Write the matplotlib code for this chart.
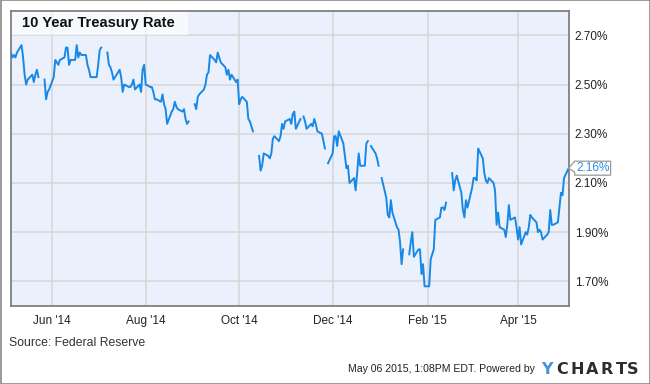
import numpy as np
import pandas as pd
import matplotlib
matplotlib.use("Agg")
import matplotlib.pyplot as plt
import matplotlib.dates as mdates
from matplotlib.patches import Rectangle, Polygon
from matplotlib.transforms import IdentityTransform

nan = np.nan

# 10 year treasury rate (%), one value per business day, nan on market holidays
rate_may14 = [2.63, 2.61, 2.62, 2.61, 2.63, 2.66, 2.61, 2.54, 2.50, 2.52,
              2.54, 2.51, 2.54, 2.56, 2.53, nan, 2.52, 2.44, 2.47, 2.48]
rate_jun14 = [2.53, 2.60, 2.59, 2.58, 2.60, 2.61, 2.65, 2.65, 2.58, 2.60,
              2.60, 2.66, 2.61, 2.63, 2.62, 2.62, 2.58, 2.56, 2.53, 2.53, 2.53]
rate_jul14 = [2.58, 2.64, 2.65, nan, 2.63, 2.58, 2.57, 2.55, 2.52, 2.55, 2.56, 2.53,
              2.47, 2.50, 2.49, 2.49, 2.50, 2.52, 2.48, 2.50, 2.47, 2.56, 2.58]
rate_aug14 = [2.50, 2.49, 2.49, 2.47, 2.44, 2.44, 2.43, 2.46, 2.42, 2.40, 2.34,
              2.39, 2.40, 2.43, 2.41, 2.40, 2.39, 2.40, 2.36, 2.34, 2.35]
rate_sep14 = [nan, 2.42, 2.40, 2.45, 2.46, 2.48, 2.50, 2.54, 2.55, 2.62, 2.60,
              2.59, 2.63, 2.61, 2.59, 2.57, 2.54, 2.56, 2.52, 2.54, 2.51, 2.52]
rate_oct14 = [2.42, 2.44, 2.45, 2.43, 2.36, 2.35, 2.33, 2.31, nan, 2.21, 2.15, 2.17,
              2.22, 2.21, 2.20, 2.22, 2.28, 2.29, 2.27, 2.29, 2.34, 2.32, 2.35]
rate_nov14 = [2.36, 2.34, 2.38, 2.39, 2.32, 2.36, nan, 2.37, 2.35, 2.32,
              2.34, 2.33, 2.36, 2.34, 2.31, 2.30, 2.27, 2.24, nan, 2.18]
rate_dec14 = [2.22, 2.29, 2.29, 2.25, 2.31, 2.26, 2.21, 2.16, 2.17, 2.10, 2.12, 2.07,
              2.14, 2.22, 2.17, 2.17, 2.26, 2.27, nan, 2.25, 2.22, 2.20, 2.17]
rate_jan15 = [nan, 2.12, 2.04, 1.97, 1.96, 2.03, 1.98, 1.92, 1.91, 1.86, 1.77,
              1.83, nan, 1.81, 1.86, 1.90, 1.80, 1.83, 1.83, 1.73, 1.77, 1.68]
rate_feb15 = [1.68, 1.79, 1.81, 1.83, 1.95, 1.96, 2.00, 2.00, 1.99, 2.02,
              nan, 2.14, 2.07, 2.11, 2.13, 2.06, 1.99, 1.96, 2.03, 2.00]
rate_mar15 = [2.08, 2.12, 2.12, 2.11, 2.24, 2.20, 2.14, 2.11, 2.10, 2.12, 2.10,
              2.07, 1.93, 1.98, 1.92, 1.91, 1.88, 1.93, 2.01, 1.95, 1.96, 1.92]
rate_apr15 = [1.87, 1.92, 1.85, 1.90, 1.89, 1.92, 1.97, 1.96, 1.94, 1.90, 1.91,
              1.90, 1.87, 1.89, 1.90, 1.99, 1.93, 1.93, 1.94, 2.00, 2.06, 2.05]
rate_may15 = [2.12, 2.16]

tick_months = ["2014-06-01", "2014-08-01", "2014-10-01",
               "2014-12-01", "2015-02-01", "2015-04-01"]
y_ticks = [1.70, 1.90, 2.10, 2.30, 2.50, 2.70]

dates = pd.bdate_range("2014-05-05", "2015-05-04")
rates = np.array(rate_may14 + rate_jun14 + rate_jul14 + rate_aug14 + rate_sep14
                 + rate_oct14 + rate_nov14 + rate_dec14 + rate_jan15 + rate_feb15
                 + rate_mar15 + rate_apr15 + rate_may15, dtype=float)

plt.rcParams['font.family'] = ['Liberation Sans', 'DejaVu Sans']

W, H = 650, 384
fig = plt.figure(figsize=(W / 100, H / 100), dpi=100)


def fx(x):
    return x / W


def fy(y):
    return 1 - y / H


# outer frame
fig.add_artist(Rectangle((0.0008, 0.0013), 0.9985, 0.9974, transform=fig.transFigure,
                         fill=False, edgecolor='#8a8a8a', lw=1.2))

ax = fig.add_axes([fx(10.7), fy(306), (569 - 10.7) / W, (306 - 10.7) / H])
ax.set_facecolor('#eaf1fc')
ax.plot(dates, rates, color='#1888e6', lw=1.4, zorder=3)

ax.set_xlim(pd.Timestamp("2014-05-04 22:00"), pd.Timestamp("2015-05-04 06:00"))
ax.set_ylim(1.60, 2.80)
ax.set_xticks(pd.to_datetime(tick_months))
ax.xaxis.set_major_formatter(mdates.DateFormatter("%b '%y"))
ax.yaxis.tick_right()
ax.set_yticks(y_ticks)
ax.set_yticklabels([f"{v:.2f}%" for v in y_ticks])
ax.grid(color='#d6d6d6', lw=1.1)
ax.set_axisbelow(True)
ax.tick_params(length=0, labelsize=8.5, colors='#222222')
ax.tick_params(axis='x', pad=6.5)
ax.tick_params(axis='y', pad=4)
for s in ax.spines.values():
    s.set_color('#808080')
    s.set_linewidth(1.3)

# title box
ax.add_patch(Rectangle((0, 0.917), 0.318, 0.083, transform=ax.transAxes,
                       facecolor='white', alpha=0.6, lw=0, zorder=2))
ax.text(0.0197, 0.958, "10 Year Treasury Rate", transform=ax.transAxes,
        fontsize=10.6, fontweight='bold', va='center', ha='left', color='#111111', zorder=4)

# last value callout
px, py = ax.transData.transform((mdates.date2num(dates[-1]), rates[-1]))
callout = Polygon([(px, py), (px + 6, py + 7), (px + 42, py + 7),
                   (px + 42, py - 7), (px + 6, py - 7), (px + 6, py - 4)],
                  closed=True, facecolor='white', edgecolor='#9a9a9a', lw=0.9,
                  transform=IdentityTransform())
fig.add_artist(callout)
fig.text(px + 8, py, f"{rates[-1]:.2f}%", transform=IdentityTransform(),
         fontsize=8.5, color='#2b8de3', va='center', ha='left')

# footer
fig.text(fx(9), fy(343), "Source: Federal Reserve", fontsize=8.8, color='#333333',
         va='center', ha='left')
fig.text(fx(535), fy(369), "May 06 2015, 1:08PM EDT. Powered by", fontsize=7.6,
         color='#222222', va='center', ha='right')
logo_letters = ["Y", "C", "H", "A", "R", "T", "S"]
logo_x = [547, 562, 577, 592, 607, 621, 633]
for ch, x in zip(logo_letters, logo_x):
    fig.text(fx(x), fy(369), ch, fontsize=11.5, fontweight='bold', va='center', ha='center',
             family='DejaVu Sans', color='#4a90e2' if ch == "Y" else '#2d2d2d')

fig.savefig("out.png", dpi=100)
